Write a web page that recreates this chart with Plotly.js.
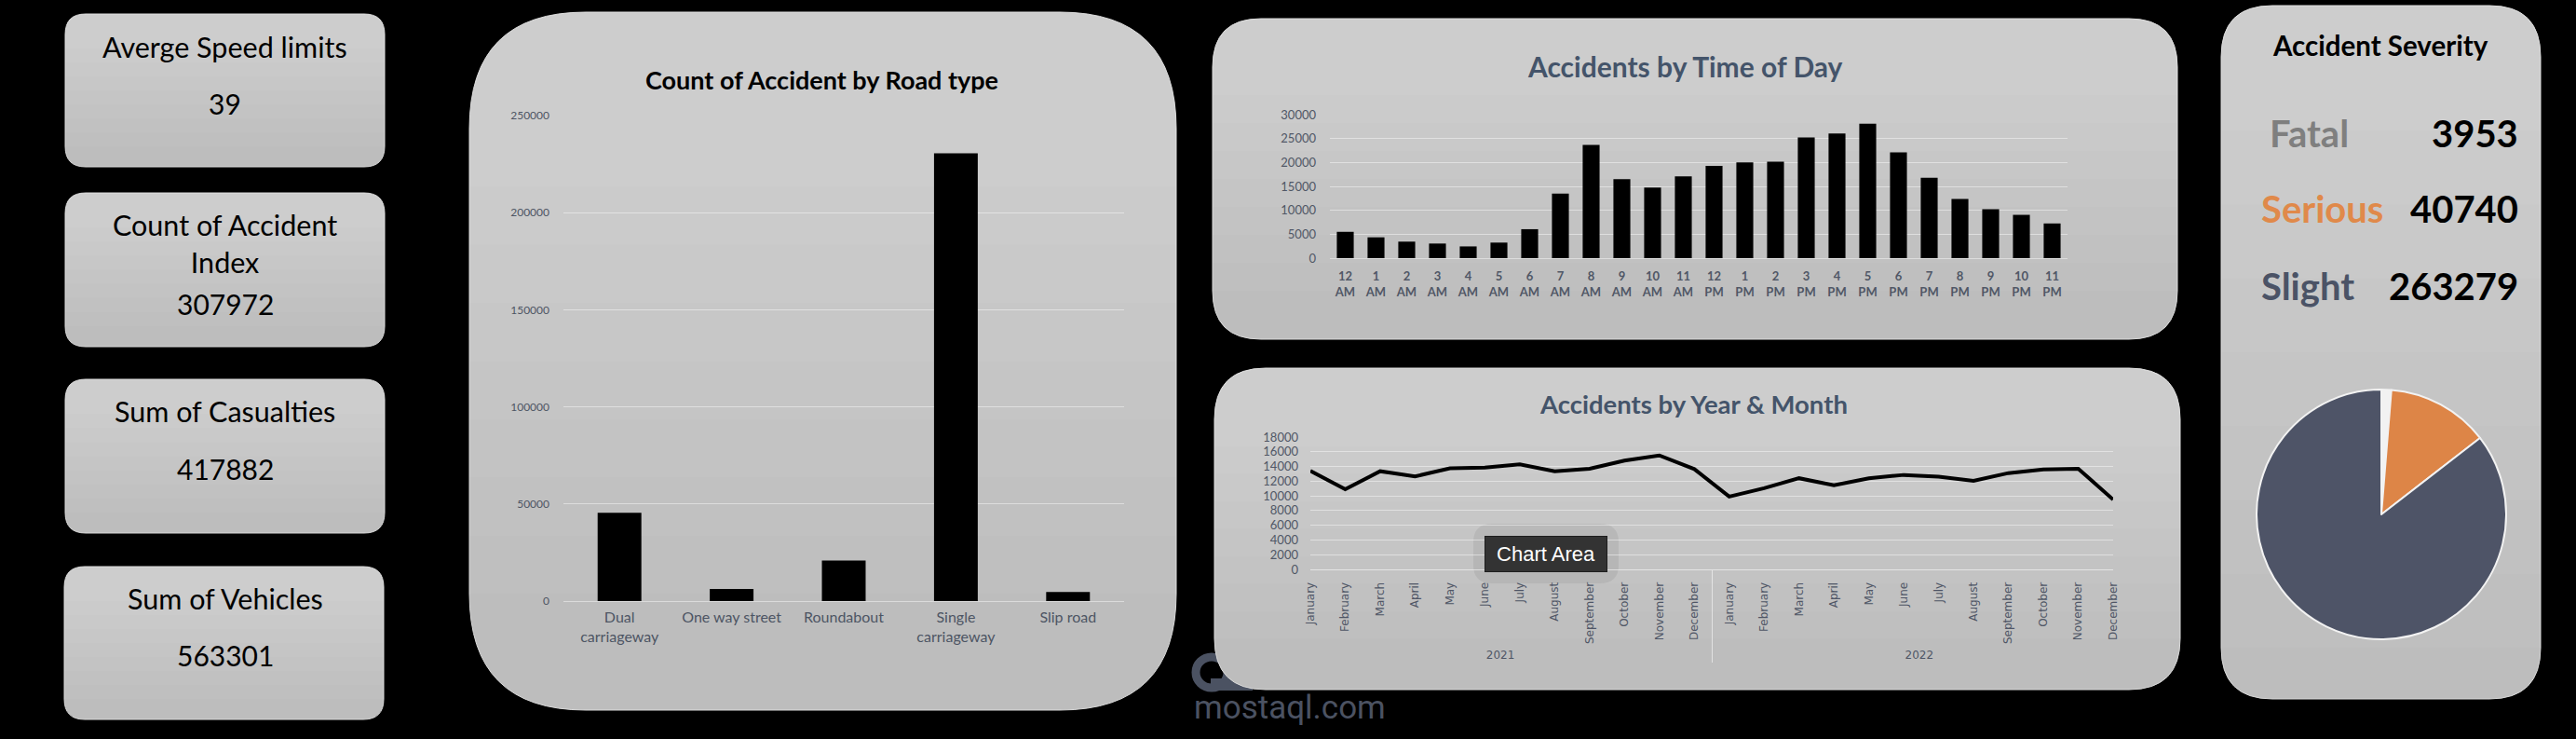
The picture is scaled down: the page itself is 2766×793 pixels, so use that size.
<!DOCTYPE html>
<html>
<head>
<meta charset="utf-8">
<script src="https://cdn.plot.ly/plotly-3.0.1.min.js"></script>
<style>
html,body{margin:0;padding:0;background:#000;overflow:hidden;}
#chart{width:2766px;height:793px;}
</style>
</head>
<body>
<div id="chart"></div>
<script>
// ---------------- DATA ----------------
const kpiLabels = ['Averge Speed limits', 'Count of Accident Index', 'Sum of Casualties', 'Sum of Vehicles'];
const kpiValues = [39, 307972, 417882, 563301];

const roadTypes = ['Dual carriageway', 'One way street', 'Roundabout', 'Single carriageway', 'Slip road'];
const roadCounts = [45467, 6237, 20929, 230612, 4727];

const hourLabels = ['12 AM','1 AM','2 AM','3 AM','4 AM','5 AM','6 AM','7 AM','8 AM','9 AM','10 AM','11 AM',
                    '12 PM','1 PM','2 PM','3 PM','4 PM','5 PM','6 PM','7 PM','8 PM','9 PM','10 PM','11 PM'];
const hourCounts = [5500,4350,3450,3050,2450,3250,6050,13500,23650,16500,14750,17100,
                    19300,20000,20150,25250,26050,28100,22100,16800,12350,10250,9050,7250];

const years = ['2021', '2022'];
const monthNames = ['January','February','March','April','May','June','July','August','September','October','November','December'];
const accidents2021 = [13400,10900,13350,12650,13750,13850,14300,13350,13700,14800,15500,13650];
const accidents2022 = [9900,11050,12400,11450,12400,12850,12600,12050,13100,13600,13700,9500];

const severityLabels = ['Fatal', 'Serious', 'Slight'];
const severityValues = [3953, 40740, 263279];

const titles = {
  road: 'Count of Accident by Road type',
  hour: 'Accidents by Time of Day',
  month: 'Accidents by Year & Month',
  severity: 'Accident Severity'
};

// ---------------- LAYOUT HELPERS ----------------
const W = 2766, H = 793;
const X = p => p / W;
const Y = p => 1 - p / H;

function roundRect(x0, y0, x1, y1, r) {
  const rx = r / W, ry = r / H;
  const a = X(x0), b = X(x1), t = Y(y0), u = Y(y1);
  return `M ${a+rx},${t} L ${b-rx},${t} Q ${b},${t} ${b},${t-ry} L ${b},${u+ry} Q ${b},${u} ${b-rx},${u} ` +
         `L ${a+rx},${u} Q ${a},${u} ${a},${u+ry} L ${a},${t-ry} Q ${a},${t} ${a+rx},${t} Z`;
}
function topRound(x0, y0, x1, yb, r) {
  const rx = r / W, ry = r / H;
  const a = X(x0), b = X(x1), t = Y(y0), u = Y(yb);
  return `M ${a},${u} L ${a},${t-ry} Q ${a},${t} ${a+rx},${t} L ${b-rx},${t} Q ${b},${t} ${b},${t-ry} L ${b},${u} Z`;
}

const shapes = [];
// watermark logo (sits under the cards)
shapes.push({type:'circle', xref:'paper', yref:'paper', x0:X(1284), x1:X(1318), y0:Y(738), y1:Y(705),
             line:{color:'#4b5262', width:9}, fillcolor:'rgba(0,0,0,0)', layer:'below'});
shapes.push({type:'rect', xref:'paper', yref:'paper', x0:X(1300), x1:X(1345), y0:Y(741), y1:Y(728),
             line:{width:0}, fillcolor:'#4b5262', layer:'below'});

const cardBoxes = [
  [70, 15, 413, 179, 22], [70, 207, 413, 372, 22], [70, 407, 413, 572, 22], [69, 608, 412, 772, 22],
  [504, 13, 1263, 762, 125], [1302, 20, 2338, 364, 52], [1304, 395, 2341, 740, 55], [2385, 6, 2728, 750, 55]
];
cardBoxes.forEach(([x0, y0, x1, y1, r]) => {
  shapes.push({type:'path', xref:'paper', yref:'paper', path:roundRect(x0, y0, x1, y1, r),
               fillcolor:'#bdbdbd', line:{color:'#d8d8d8', width:1}, layer:'below'});
  const N = 8, span = (y1 - r) - (y0 + r);
  for (let k = 0; k < N; k++) {
    const yb = (y1 - r) - span * k / N;
    shapes.push({type:'path', xref:'paper', yref:'paper', path:topRound(x0, y0, x1, yb, r),
                 fillcolor:'rgba(255,255,255,0.045)', line:{width:0}, layer:'below'});
  }
});
// soft halo behind the "Chart Area" tooltip
shapes.push({type:'path', xref:'paper', yref:'paper', path:roundRect(1582, 562, 1738, 626, 20),
             fillcolor:'rgba(90,90,90,0.12)', line:{width:0}, layer:'below'});

// ---------------- TEXT ----------------
const annotations = [];
function txt(text, x, y, size, color, opts) {
  annotations.push(Object.assign({text, x:X(x), y:Y(y), xref:'paper', yref:'paper', showarrow:false,
    xanchor:'center', yanchor:'middle', font:{family:'Lato, sans-serif', size, color}}, opts || {}));
}
const bold = (size, color) => ({font:{family:'Lato, sans-serif', size, color, weight:'bold'}});
const wrapLabel = s => s.length > 20 ? s.replace(/ (\S+)$/, '<br>$1') : s;

const kpiTitleY = [50, 261, 441, 642];
const kpiValueY = [111, 326, 503, 703];
kpiLabels.forEach((lab, i) => {
  txt(wrapLabel(lab), 241.5, kpiTitleY[i], 30.5, '#000');
  txt(String(kpiValues[i]), 241.5, kpiValueY[i], 30, '#000');
});

txt(titles.road, 882, 86, 27, '#000', bold(27, '#000'));
txt(titles.hour, 1809, 71, 30, '#44546a', bold(30, '#44546a'));
txt(titles.month, 1818, 433, 27.5, '#44546a', bold(27.5, '#44546a'));
txt(titles.severity, 2556, 49, 29.5, '#000', bold(29.5, '#000'));

const sevColors = ['#7f7f7f', '#e0894a', '#4b5366'];
const sevRowY = [143, 224, 307];
const sevLabelX = [2435, 2426, 2426];
severityLabels.forEach((lab, i) => {
  txt(lab, sevLabelX[i], sevRowY[i], 40, sevColors[i], Object.assign({xanchor:'left'}, bold(40, sevColors[i])));
  txt(String(severityValues[i]), 2706, sevRowY[i], 40, '#000', Object.assign({xanchor:'right'}, bold(40, '#000')));
});

// Excel hover tooltip captured in the screenshot
txt('Chart Area', 1660, 594, 22, '#ffffff',
    {font:{family:'Liberation Sans, Arial, sans-serif', size:22, color:'#ffffff'},
     bgcolor:'#333333', bordercolor:'#1e1e1e', borderwidth:1, borderpad:0, width:130, height:37});
// watermark
txt('mostaql.com', 1280, 759, 35, '#4b5262',
    {xanchor:'left', font:{family:'Roboto, sans-serif', size:35, color:'#4b5262'}});

// ---------------- TRACES ----------------
const tickCol = '#4d5564';
const gridCol = 'rgba(255,255,255,0.45)';

const traces = [
  {type:'bar', x:roadTypes, y:roadCounts, xaxis:'x', yaxis:'y', width:0.39,
   marker:{color:'#000000'}, hoverinfo:'x+y'},
  {type:'bar', x:hourLabels, y:hourCounts, xaxis:'x2', yaxis:'y2', width:0.55,
   marker:{color:'#000000'}, hoverinfo:'x+y'},
  {type:'scatter', mode:'lines', xaxis:'x3', yaxis:'y3',
   x:[years.flatMap(yr => monthNames.map(() => yr)), years.flatMap(() => monthNames)],
   y:accidents2021.concat(accidents2022),
   line:{color:'#000000', width:4}},
  {type:'pie', labels:severityLabels, values:severityValues, sort:false, direction:'clockwise', rotation:0,
   marker:{colors:['#f2f2f2', '#dd8547', '#4e5467'], line:{color:'#f2f2f2', width:2}},
   textinfo:'none', showlegend:false,
   domain:{x:[X(2423), X(2691)], y:[Y(686), Y(418)]}}
];

const layout = {
  width: W, height: H,
  margin: {l:0, r:0, t:0, b:0, pad:0},
  paper_bgcolor: '#000000', plot_bgcolor: 'rgba(0,0,0,0)',
  showlegend: false,
  bargap: 0.5,
  shapes, annotations,
  xaxis: {domain:[X(605), X(1207)], anchor:'y', type:'category',
          tickvals: roadTypes, ticktext: roadTypes.map(s => s.replace(' carriageway', '<br>carriageway')),
          tickfont:{family:'Lato, sans-serif', size:16, color:tickCol}, showgrid:false, showline:false,
          zeroline:false, ticks:'', ticklabelstandoff:6, fixedrange:true},
  yaxis: {domain:[Y(645), Y(124)], anchor:'x', range:[0, 250000], dtick:50000, tickformat:'d',
          tickfont:{family:'Lato, sans-serif', size:12, color:tickCol}, gridcolor:gridCol, gridwidth:1,
          zeroline:true, zerolinecolor:gridCol, zerolinewidth:1, showline:false, ticks:'', ticklabelstandoff:14, fixedrange:true},
  xaxis2: {domain:[X(1428), X(2220)], anchor:'y2', type:'category',
           tickvals: hourLabels, ticktext: hourLabels.map(s => s.replace(' ', '<br>')),
           tickfont:{family:'Lato, sans-serif', size:13, color:'#505766', weight:'bold'}, showgrid:false,
           zeroline:false, showline:false, ticks:'', tickangle:0, ticklabelstandoff:10, fixedrange:true},
  yaxis2: {domain:[Y(277), Y(123)], anchor:'x2', range:[0, 30000], dtick:5000, tickformat:'d',
           tickfont:{family:'Lato, sans-serif', size:13, color:'#505766'}, gridcolor:gridCol,
           zeroline:true, zerolinecolor:gridCol, showline:false, ticks:'', ticklabelstandoff:14, fixedrange:true},
  xaxis3: {domain:[X(1407), X(2269)], anchor:'y3', type:'multicategory', tickangle:-90,
           tickfont:{family:'DejaVu Sans, sans-serif', size:12, color:'#4f5666'}, showgrid:false,
           showline:true, linecolor:'rgba(255,255,255,0.55)', linewidth:1,
           showdividers:true, dividercolor:'rgba(255,255,255,0.55)', dividerwidth:1,
           ticks:'', ticklabelstandoff:8, fixedrange:true},
  yaxis3: {domain:[Y(611), Y(469)], anchor:'x3', range:[0, 18000], dtick:2000, tickformat:'d',
           tickfont:{family:'Lato, sans-serif', size:13, color:'#505766'}, gridcolor:gridCol,
           zeroline:false, showline:false, ticks:'', ticklabelstandoff:12, fixedrange:true}
};

Plotly.newPlot('chart', traces, layout, {displayModeBar:false, staticPlot:true});
</script>
</body>
</html>
